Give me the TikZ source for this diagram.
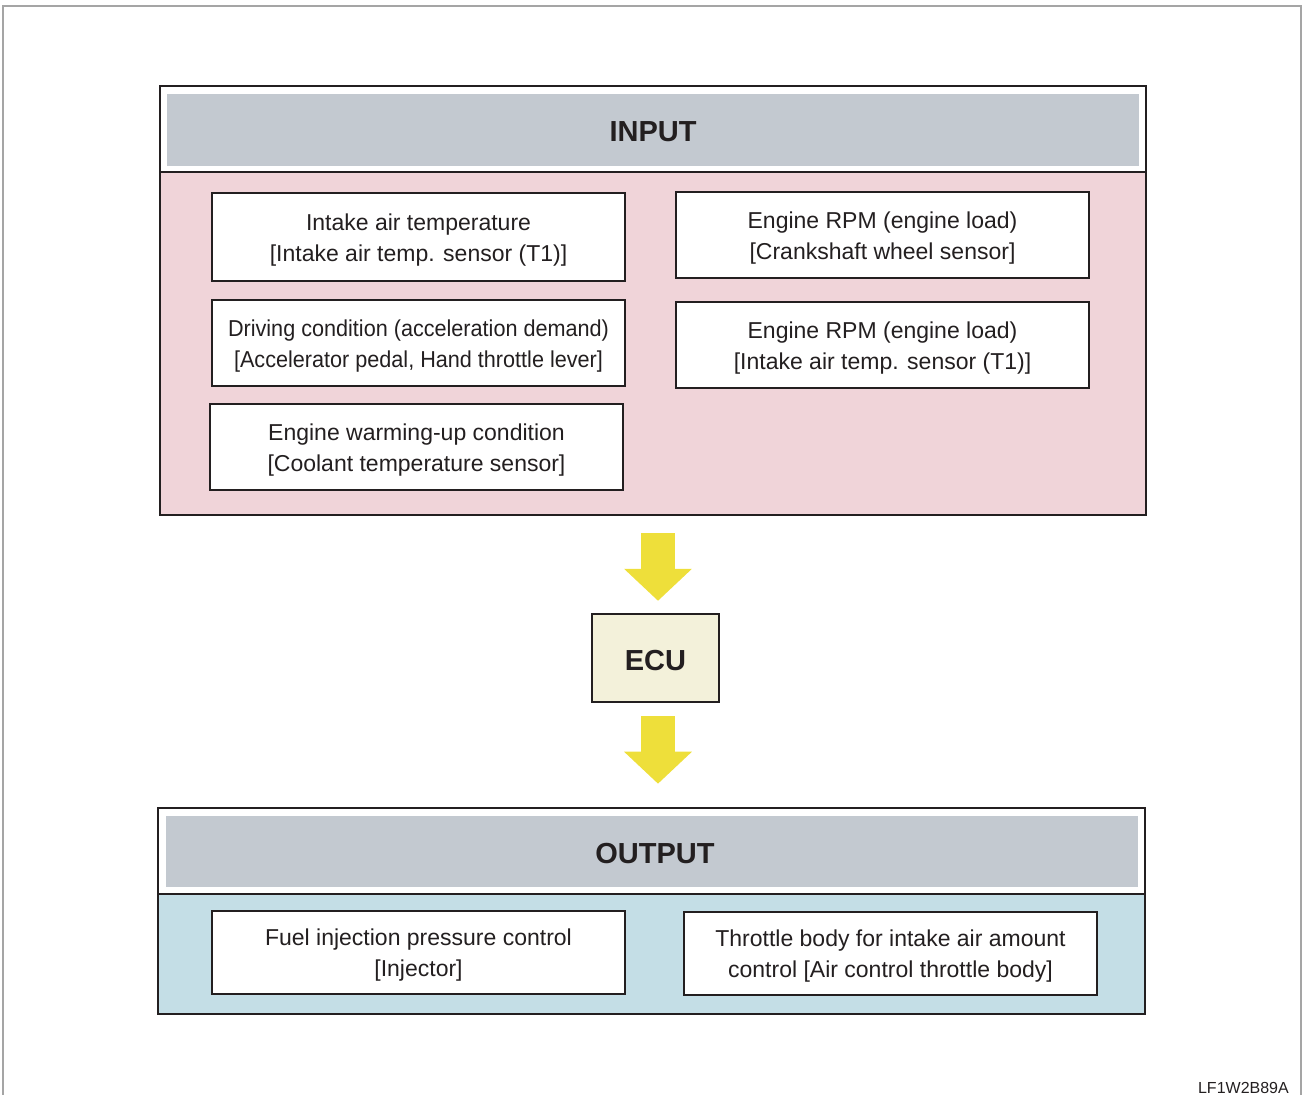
\documentclass[tikz,border=0pt]{standalone}
\usepackage{fontspec}
\setmainfont{Liberation Sans}
\usetikzlibrary{arrows.meta}
\definecolor{ink}{HTML}{231F20}
\definecolor{hdrgray}{HTML}{C3C9D0}
\definecolor{pinkbg}{HTML}{F0D4D9}
\definecolor{bluebg}{HTML}{C4DEE6}
\definecolor{arrowyel}{HTML}{EEDF3A}
\definecolor{ecufill}{HTML}{F3F1DA}
\definecolor{outergray}{HTML}{A5A5A5}
\tikzset{
  x=1pt, y=-1pt,
  txt/.style={font=\fontsize{23}{31}\selectfont, text=ink, align=center},
  infobox/.style={draw=ink, line width=1.3pt, fill=white, minimum width=413pt, minimum height=86pt, inner sep=0pt},
  boxtext/.style={txt, inner sep=0pt},
  frame/.style={draw=ink, line width=2.6pt, inner sep=0pt},
  hdrtxt/.style={font=\fontsize{29}{34}\selectfont\bfseries, text=ink},
  flowarrow/.style={draw=arrowyel, line width=34pt, -{Triangle[width=66pt,length=32pt]}},
}
\begin{document}
\begin{tikzpicture}
\useasboundingbox (0,0) rectangle (1304,1095);
\begin{scope}
\clip (0,0) rectangle (1304,1095);
\draw[outergray, line width=1.8pt] (3,6) rectangle (1301,1110);
\end{scope}

% INPUT block
\fill[pinkbg] (160,172) rectangle (1146,515);
\fill[hdrgray] (167,94) rectangle (1139,166);
\draw[ink, line width=2.6pt] (160,172) -- (1146,172);
\node[frame, minimum width=986pt, minimum height=429pt] (input) at (653,300.5) {};
\node[hdrtxt] (inputlbl) at (653,132) {INPUT};

\node[infobox, minimum height=88pt] (b1) at (418.5,237) {};
\node[boxtext] (b1t) at ([yshift=-3pt]b1.center) {Intake air temperature\\{}[Intake air temp. sensor (T1)]};
\node[infobox] (b2) at (882.5,235) {};
\node[boxtext] (b2t) at ([yshift=-3pt]b2.center) {Engine RPM (engine load)\\{}[Crankshaft wheel sensor]};
\node[infobox] (b3) at (418.5,343) {};
\node[boxtext, font=\fontsize{23}{31}\selectfont\addfontfeatures{FakeStretch=0.94}] (b3t) at ([yshift=-3pt]b3.center) {Driving condition (acceleration demand)\\{}[Accelerator pedal, Hand throttle lever]};
\node[infobox] (b4) at (882.5,345) {};
\node[boxtext] (b4t) at ([yshift=-3pt]b4.center) {Engine RPM (engine load)\\{}[Intake air temp. sensor (T1)]};
\node[infobox] (b5) at (416.5,447) {};
\node[boxtext] (b5t) at ([yshift=-3pt]b5.center) {Engine warming-up condition\\{}[Coolant temperature sensor]};

% ECU
\node[draw=ink, line width=2.4pt, fill=ecufill, minimum width=127pt, minimum height=88pt, inner sep=0pt] (ecu) at (655.5,658) {};
\node[hdrtxt] (ecut) at ([yshift=-3pt]ecu.center) {ECU};

% OUTPUT block
\fill[bluebg] (158,894) rectangle (1145,1014);
\fill[hdrgray] (166,816) rectangle (1138,887);
\draw[ink, line width=2.6pt] (158,894) -- (1145,894);
\node[frame, minimum width=987pt, minimum height=206pt] (output) at (651.5,911) {};
\node[hdrtxt] (outputlbl) at (655,854) {OUTPUT};

\node[infobox, minimum height=83pt] (o1) at (418.5,952.5) {};
\node[boxtext] (o1t) at ([yshift=-3pt]o1.center) {Fuel injection pressure control\\{}[Injector]};
\node[infobox, minimum height=83pt] (o2) at (890.5,953.5) {};
\node[boxtext] (o2t) at ([yshift=-3pt]o2.center) {Throttle body for intake air amount\\control [Air control throttle body]};

% arrows
\draw[flowarrow, shorten <=17pt, shorten >=12pt] ([xshift=2.5pt]ecu.north |- input.south) -- ([xshift=2.5pt]ecu.north);
\draw[flowarrow, shorten <=13pt, shorten >=23pt] ([xshift=2.5pt]ecu.south) -- ([xshift=2.5pt]ecu.south |- output.north);

\node[font=\fontsize{16}{18}\selectfont, text=ink, anchor=base east, inner sep=0pt] (code) at (1289,1093) {LF1W2B89A};
\end{tikzpicture}
\end{document}
